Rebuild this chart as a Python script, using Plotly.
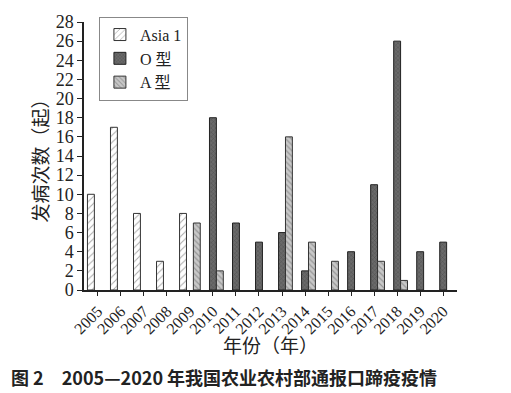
import plotly.graph_objects as go

years = [str(y) for y in range(2005, 2021)]
asia1 = [10, 17, 8, 3, 8, 0, 0, 0, 0, 0, 0, 0, 0, 0, 0, 0]
type_o = [0, 0, 0, 0, 0, 18, 7, 5, 6, 2, 0, 4, 11, 26, 4, 5]
type_a = [0, 0, 0, 0, 7, 2, 0, 0, 16, 5, 3, 0, 3, 1, 0, 0]
y_ticks = list(range(0, 29, 2))


def nz(vals):
    return [v if v else None for v in vals]


serif = "Liberation Serif, Times New Roman, Noto Sans CJK SC"

fig = go.Figure()
fig.add_trace(go.Bar(
    x=years, y=nz(asia1), name="Asia 1",
    marker=dict(color="white", line=dict(color="#333", width=1),
                pattern=dict(shape="/", fgcolor="#555", size=5, solidity=0.2)),
))
fig.add_trace(go.Bar(
    x=years, y=nz(type_o), name="O 型",
    marker=dict(color="#5a5a5a", line=dict(color="#222", width=1),
                pattern=dict(shape="x", fgcolor="#333", bgcolor="#6a6a6a", size=3, solidity=0.3)),
))
fig.add_trace(go.Bar(
    x=years, y=nz(type_a), name="A 型",
    marker=dict(color="#bdbdbd", line=dict(color="#333", width=1),
                pattern=dict(shape="\\", fgcolor="#666", bgcolor="#c8c8c8", size=4, solidity=0.3)),
))

# the page body has an 8px margin, so the figure is 8px smaller and offset
fig.update_layout(
    width=503, height=385,
    margin=dict(l=76, r=54, t=9, b=103),
    paper_bgcolor="white", plot_bgcolor="white",
    barmode="group", bargap=0.1, bargroupgap=0,
    font=dict(family=serif, size=17, color="#222"),
    showlegend=True,
    legend=dict(x=0.04, y=1.02, xanchor="left", yanchor="top",
                bordercolor="#888", borderwidth=1, bgcolor="white",
                font=dict(family=serif, size=16), tracegroupgap=0,
                itemwidth=30),
    xaxis=dict(
        type="category", showline=True, linecolor="#222", linewidth=1.5,
        ticks="outside", ticklen=4, tickcolor="#222", tickangle=-45,
        tickfont=dict(family=serif, size=16), automargin=False,
        ticklabeloverflow="allow",
        range=[-0.6, 15.6],
    ),
    yaxis=dict(
        range=[0, 28], tickvals=y_ticks, showline=True, linecolor="#222", linewidth=1.5,
        ticks="outside", ticklen=5, tickcolor="#222", showgrid=False, zeroline=False,
        tickfont=dict(family=serif, size=18), automargin=False,
        ticklabeloverflow="allow",
        title=dict(text="发病次数（起）", font=dict(family=serif, size=19), standoff=2),
    ),
)

fig.add_annotation(
    text="年份（年）",
    xref="paper", yref="paper", x=0.5, y=-0.212, xanchor="center", yanchor="middle",
    showarrow=False, font=dict(family=serif, size=19, color="#222"),
)

fig.add_annotation(
    text="<b>图 2　2005—2020 年我国农业农村部通报口蹄疫疫情</b>",
    xref="paper", yref="paper", x=-0.2, y=-0.325, xanchor="left", yanchor="middle",
    showarrow=False, font=dict(family="Noto Sans CJK SC", size=18, color="#222"),
)

fig.write_html("out.html")
